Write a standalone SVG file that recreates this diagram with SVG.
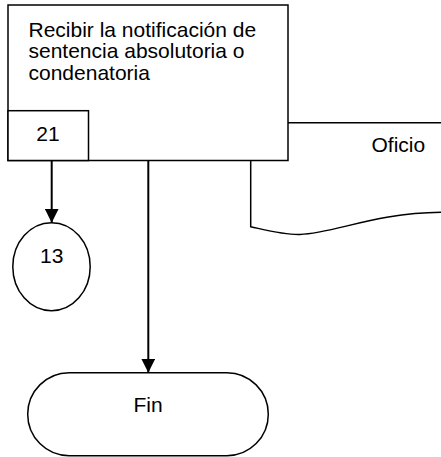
<svg xmlns="http://www.w3.org/2000/svg" width="441" height="457" viewBox="0 0 441 457">
<style>
.s{fill:#fff;stroke:#000;stroke-width:1.5}
.t{font-family:"Liberation Sans",Arial,sans-serif;font-size:21px;fill:#000}
.c{stroke:#000;stroke-width:2;fill:none}
</style>
<defs>
<marker id="ah" viewBox="0 0 14 14" refX="14" refY="7" markerWidth="14" markerHeight="14" markerUnits="userSpaceOnUse" orient="auto">
<path d="M0,0 L14,7 L0,14 Z" fill="#000"/>
</marker>
</defs>
<rect width="441" height="457" fill="#fff"/>
<g id="oficio">
<path class="s" d="M441,122.7 L250.7,122.7 L250.7,226.7 C270,231 285,235 300,234.5 C335,233 375,213 441,212.3"/>
<text class="t" x="371.5" y="151.7">Oficio</text>
</g>
<g id="task21">
<rect class="s" x="8" y="5" width="280" height="155.5"/>
<text class="t" x="28.5" y="36.7">Recibir la notificación de</text>
<text class="t" x="28.5" y="58.3">sentencia absolutoria o</text>
<text class="t" x="28.5" y="80">condenatoria</text>
<rect class="s" x="8" y="110.7" width="80.5" height="49.8"/>
<text class="t" x="48" y="141" text-anchor="middle">21</text>
</g>
<g id="conn13">
<ellipse class="s" cx="51.5" cy="266.7" rx="38.7" ry="44"/>
<text class="t" x="51.7" y="262.7" text-anchor="middle">13</text>
</g>
<g id="fin">
<rect class="s" x="27.7" y="372.7" width="240.6" height="83" rx="41.5" ry="41.5"/>
<text class="t" x="148" y="411.7" text-anchor="middle">Fin</text>
</g>
<g id="connectors">
<line class="c" x1="51.7" y1="161" x2="51.7" y2="222.7" marker-end="url(#ah)"/>
<line class="c" x1="148.3" y1="161" x2="148.3" y2="372.7" marker-end="url(#ah)"/>
</g>
</svg>
